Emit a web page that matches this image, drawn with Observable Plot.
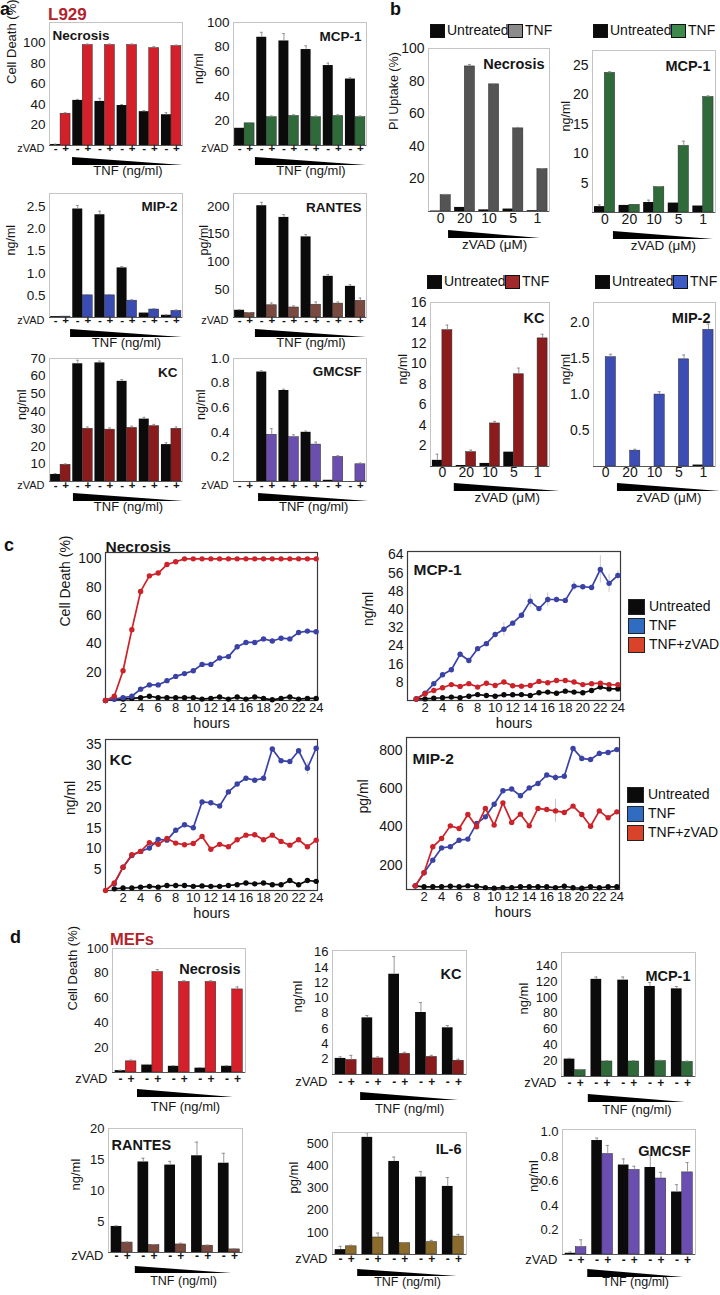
<!DOCTYPE html>
<html>
<head>
<meta charset="utf-8">
<script src="https://cdn.jsdelivr.net/npm/d3@7"></script>
<script src="https://cdn.jsdelivr.net/npm/@observablehq/plot@0.6"></script>
<style>
html,body{margin:0;padding:0;background:#fff;}
#page{position:relative;width:720px;height:1295px;overflow:hidden;background:#fff;font-family:"Liberation Sans",Arial,Helvetica,sans-serif;color:#111;}
#page svg{overflow:visible;position:absolute;}
.t{position:absolute;white-space:nowrap;line-height:1;}
.sw{position:absolute;box-sizing:border-box;border:1px solid #111;}
</style>
</head>
<body>
<div id="page"></div>
<script>
// ---------------- DATA ----------------
// panel a (L929): 6 groups, "-" = no zVAD, "+" = zVAD
const aNecrosisNoZvad = [1, 44, 43, 39, 33, 30];
const aNecrosisZvad   = [31, 98, 98, 98, 95, 97];
const aNecrosisErrNo  = [0.3, 1, 3, 1, 1, 2];
const aNecrosisErrZ   = [1, 1, 1, 1, 1.5, 1];
const aMcp1NoZvad = [14, 88, 85, 78, 65, 54];
const aMcp1Zvad   = [18, 23, 24, 23, 24, 23];
const aMcp1ErrNo  = [0, 4, 6, 3, 2, 1];
const aMcp1ErrZ   = [0.5, 1, 1, 1, 1, 1];
const aMip2NoZvad = [0.02, 2.45, 2.32, 1.12, 0.1, 0.05];
const aMip2Zvad   = [0.02, 0.5, 0.5, 0.38, 0.18, 0.15];
const aMip2ErrNo  = [0, 0.08, 0.08, 0.03, 0.01, 0.01];
const aMip2ErrZ   = [0, 0.02, 0.02, 0.02, 0.02, 0.02];
const aRantesNoZvad = [13, 201, 180, 145, 74, 56];
const aRantesZvad   = [8, 22, 18, 23, 25, 30];
const aRantesErrNo  = [1, 6, 5, 4, 3, 3];
const aRantesErrZ   = [1, 4, 3, 5, 3, 5];
const aKcNoZvad = [4, 67, 67.5, 57, 35.5, 21];
const aKcZvad   = [9.5, 30, 29.5, 30.5, 31.5, 30];
const aKcErrNo  = [0.5, 2, 1, 1, 1, 1];
const aKcErrZ   = [0.5, 1, 1, 1, 1, 1];
const aGmcsfNoZvad = [0, 0.89, 0.74, 0.40, 0.01, 0];
const aGmcsfZvad   = [0, 0.38, 0.36, 0.30, 0.20, 0.14];
const aGmcsfErrNo  = [0, 0.01, 0.01, 0.01, 0, 0];
const aGmcsfErrZ   = [0, 0.05, 0.02, 0.02, 0.01, 0.01];

// panel b: zVAD doses (µM)
const bDoses = ["0", "20", "10", "5", "1"];
const bNecrosisUntreated = [0.3, 2.5, 1, 1.5, 0.5];
const bNecrosisTnf       = [10, 89, 78, 51, 26];
const bNecrosisErrU      = [0, 0, 0, 0, 0];
const bNecrosisErrT      = [0.5, 1.2, 0.3, 0.6, 0.3];
const bMcp1Untreated = [1, 1.2, 1.7, 1.6, 1.1];
const bMcp1Tnf       = [23.7, 1.3, 4.3, 11.3, 19.6];
const bMcp1ErrU      = [0.3, 0, 0.4, 0, 0];
const bMcp1ErrT      = [0.2, 0, 0.1, 0.8, 0.2];
const bKcUntreated = [0.6, 0.1, 0.3, 1.4, 0];
const bKcTnf       = [13.3, 1.4, 4.2, 9.0, 12.5];
const bKcErrU      = [0.6, 0, 0, 0, 0];
const bKcErrT      = [0.5, 0.2, 0.2, 0.6, 0.4];
const bMip2Untreated = [0, 0, 0, 0, 0.02];
const bMip2Tnf       = [1.52, 0.22, 1.0, 1.49, 1.9];
const bMip2ErrU      = [0, 0, 0, 0, 0];
const bMip2ErrT      = [0.04, 0.02, 0.04, 0.06, 0.08];

// panel c: time course, hours 0..24 (null = not measured)
const hours = [0,1,2,3,4,5,6,7,8,9,10,11,12,13,14,15,16,17,18,19,20,21,22,23,24];
const hourTicks = [2,4,6,8,10,12,14,16,18,20,22,24];
const cNecrosisUntreated = [0,1,1,1.5,2,3,2,2,2,2,2,1,1.5,2.5,1,2.5,1,2.5,1.5,0.5,1.5,2.5,1,1.5,1.5];
const cNecrosisTnf       = [0,1,2,3,8,11,11,14,17,19,21,25.5,25.5,30,31,38,41,41,43.5,42,44,43.5,48,49,48.5];
const cNecrosisTnfZvad   = [0,3,21,50,77,88,90,96,98,100,100,100,100,100,100,100,100,100,100,100,100,100,100,100,100];
const cMcp1Untreated = [null,0.7,0.7,1,1.2,1.5,1.2,1.9,2.6,2.2,1.9,2.5,2.5,2.6,2.2,3.4,3.7,3.2,4.1,3.7,3.4,4.4,5.9,5.1,5.1];
const cMcp1Tnf       = [null,0.7,3.2,7.4,11.3,13.5,20.3,17.6,22.8,25,29,31.3,34,37.5,43.7,40.4,44.4,44.4,44,50.3,50,49.7,57.6,51.5,55];
const cMcp1TnfErr    = [0,0,0.5,0.5,0.5,0.5,1,0.5,1,1,1,3,1,1,3,1,3,1,1,2,1,1,6,4,2];
const cMcp1TnfZvad   = [null,0.7,3,4.4,5.6,7,6.2,7.4,5.9,7.6,6.6,8.1,6.5,6.3,6.6,8.4,7.8,8.8,8.8,8.1,7,7.4,7.6,7,6.9];
const cKcUntreated = [null,0.4,0.6,0.6,0.8,1,0.8,1.2,1.2,1.2,1,1.1,1,1,1.2,1.4,1.8,1.6,1.8,1.4,1.4,2.4,1.4,2.4,2.2];
const cKcTnf       = [null,1.6,5.6,8.4,9.4,10.2,12.3,12.1,14.5,15.8,15.1,21.3,21.1,20.3,23.7,25.6,27,26.5,27,34,31.2,31,33.6,29.4,34.2];
const cKcTnfErr    = [0,0,0.3,0.3,0.3,0.3,0.3,0.3,0.5,0.3,0.3,0.5,0.3,0.3,0.5,0.3,0.5,0.3,0.5,0.5,0.5,0.5,0.5,1.5,0.5];
const cKcTnfZvad   = [0,1.8,5.6,8.6,9.4,11.5,11.1,12.5,11.4,11,11.3,13,9.9,11.1,10.5,12.2,13.3,13.4,12.2,13.3,11.8,10.9,12.2,10.5,12.1];
const cMip2Untreated = [null,92,87,87,87,90,87,92,90,83,80,83,83,87,87,87,87,83,90,82,80,87,82,87,87];
const cMip2Tnf       = [null,92,160,226,290,296,330,336,417,452,518,588,597,562,603,626,670,657,664,809,757,751,783,788,803];
const cMip2TnfErr    = [0,0,5,5,5,5,5,5,5,5,5,10,5,5,5,5,5,20,5,5,20,5,15,5,5];
const cMip2TnfZvad   = [null,92,160,296,339,405,391,464,400,496,409,525,423,466,405,496,490,483,475,508,464,403,483,447,478];
const cMip2TnfZvadErr= [0,0,5,5,5,5,5,5,5,5,5,5,5,5,5,5,5,60,5,5,5,5,5,5,5];

// panel d (MEFs): 5 groups
const dNecrosisNoZvad = [1.5, 6, 5, 3.5, 5];
const dNecrosisZvad   = [9, 81, 73, 73, 67];
const dNecrosisErrNo  = [0.3, 0.5, 0.5, 0.5, 0.5];
const dNecrosisErrZ   = [1, 2, 1, 1, 2];
const dKcNoZvad = [2.1, 7.4, 13.1, 8.1, 6.1];
const dKcZvad   = [1.9, 2.1, 2.7, 2.3, 1.8];
const dKcErrNo  = [0.2, 0.3, 2.3, 1.3, 0.3];
const dKcErrZ   = [0.6, 0.2, 0.2, 0.2, 0.2];
const dMcp1NoZvad = [22, 123, 122, 114, 111];
const dMcp1Zvad   = [8, 19, 19, 19.5, 18.5];
const dMcp1ErrNo  = [1, 3, 4, 5, 3];
const dMcp1ErrZ   = [1, 1, 1, 1, 1];
const dRantesNoZvad = [4.2, 14.6, 14.1, 15.6, 14.4];
const dRantesZvad   = [1.6, 1.2, 1.3, 1.1, 0.5];
const dRantesErrNo  = [0.1, 0.6, 0.6, 2.2, 1.6];
const dRantesErrZ   = [0.1, 0.1, 0.2, 0.1, 0.1];
const dIl6NoZvad = [22, 530, 421, 350, 308];
const dIl6Zvad   = [37, 77, 51, 56, 81];
const dIl6ErrNo  = [15, 20, 20, 25, 40];
const dIl6ErrZ   = [5, 20, 3, 8, 10];
const dGmcsfNoZvad = [0.01, 0.93, 0.73, 0.71, 0.51];
const dGmcsfZvad   = [0.06, 0.82, 0.69, 0.62, 0.67];
const dGmcsfErrNo  = [0.01, 0.02, 0.05, 0.1, 0.06];
const dGmcsfErrZ   = [0.06, 0.07, 0.03, 0.05, 0.08];

// ---------------- HELPERS ----------------
const FONT = '"Liberation Sans", Arial, Helvetica, sans-serif';
const page = document.getElementById("page");
const f1 = d3.format(".1f");
const BLACK = "#0b0b0b";

function label(s, x, top, size, extra = "") {
  const d = document.createElement("div");
  d.className = "t";
  d.textContent = s;
  d.style.cssText = `left:${x}px;top:${top}px;font-size:${size}px;` + extra;
  page.appendChild(d);
}
function swatch(x, yc, w, h, color, border = "#111") {
  const d = document.createElement("div");
  d.className = "sw";
  d.style.cssText = `left:${x}px;top:${yc - h / 2}px;width:${w}px;height:${h}px;background:${color};border-color:${border};`;
  page.appendChild(d);
}
function place(svg, left, top) {
  svg.style.left = left + "px";
  svg.style.top = top + "px";
  page.appendChild(svg);
}

function barChart(c) {
  const [fl, ft, fr, fb] = c.frame;
  const mL = 64, mR = 24, mT = 16, mB = 52;
  const n = c.u.length, hw = c.hw || 0.44;
  const rows = [];
  for (let i = 0; i < n; i++) {
    rows.push({k: "u", v: c.u[i], e: c.ue[i], x1: i - hw, x2: i, cx: i - hw / 2});
    rows.push({k: "t", v: c.t[i], e: c.te[i], x1: i, x2: i + hw, cx: i + hw / 2});
  }
  const y0 = c.y[0];
  const errRows = rows.filter(d => d.e > 0);
  const marks = [
    Plot.rect(rows.filter(d => d.k === "u"), {x1: "x1", x2: "x2", y1: () => y0, y2: "v", fill: BLACK}),
    Plot.rect(rows.filter(d => d.k === "t"), {x1: "x1", x2: "x2", y1: () => y0, y2: "v", fill: c.color, stroke: "#2a2a2a", strokeWidth: 0.5}),
    Plot.ruleX(errRows, {x: "cx", y1: "v", y2: d => d.v + d.e, stroke: "#8c8c8c", strokeWidth: 0.9}),
    Plot.ruleY(errRows, {y: d => d.v + d.e, x1: d => d.cx - 0.06, x2: d => d.cx + 0.06, stroke: "#8c8c8c", strokeWidth: 0.9}),
    Plot.frame({stroke: "#c4c4c4"}),
    Plot.ruleY([y0], {stroke: "#555"}),
    Plot.axisY(c.yTicks, {tickSize: 0, tickPadding: 4, tickFormat: c.fmt, fontSize: c.tf, label: null}),
    Plot.text([c.yLabel], {frameAnchor: "left", dx: -c.yOff, rotate: -90, fontSize: c.yf}),
    Plot.text([c.title], {frameAnchor: c.tl ? "top-left" : "top-right", textAnchor: c.tl ? "start" : "end",
      dx: c.tl ? 3 : -5, dy: c.tdy, fontWeight: "bold", fontSize: c.tfs})
  ];
  if (c.doses) {
    marks.push(Plot.text(c.doses, {x: (d, i) => i, frameAnchor: "bottom", dy: c.rowDy, fontSize: c.tf}));
  } else {
    marks.push(Plot.text(rows, {x: "cx", text: d => d.k === "u" ? "-" : "+", frameAnchor: "bottom", dy: c.rowDy, fontSize: c.sf, fontWeight: "bold"}));
    marks.push(Plot.text(["zVAD"], {frameAnchor: "bottom-left", textAnchor: "end", dx: -5, dy: c.rowDy, fontSize: c.zf}));
  }
  marks.push(Plot.text([c.caption], {x: () => (c.w[0] + c.w[1]) / 2, frameAnchor: "bottom", dy: c.capDy, fontSize: c.cf}));
  const plot = Plot.plot({
    width: fr - fl + mL + mR, height: fb - ft + mT + mB,
    marginLeft: mL, marginRight: mR, marginTop: mT, marginBottom: mB,
    x: {domain: [-0.5, n - 0.5], axis: null},
    y: {domain: c.y},
    style: {fontFamily: FONT, background: "transparent", color: "#161616", overflow: "visible"},
    marks
  });
  // TNF / zVAD gradient wedge, placed with the chart's own x scale
  const sx = plot.scale("x");
  const X0 = sx.apply(c.w[0]), X1 = sx.apply(c.w[1]);
  const yb = fb - ft + mT;
  d3.select(plot).append("path")
    .attr("d", `M${X0},${yb + c.wTop}L${X0},${yb + c.wTop + c.wH}L${X1},${yb + c.wTop + c.wH}Z`)
    .attr("fill", "#000");
  place(plot, fl - mL, ft - mT);
}

function lineChart(c) {
  const [fl, ft, fr, fb] = c.frame;
  const mL = 64, mR = 12, mT = 24, mB = 40;
  const marks = [Plot.frame({stroke: "#3a3a3a", strokeWidth: 1.2})];
  const seriesRows = c.series.map(s => hours.map((h, i) => ({h, v: s.vals[i], e: s.err ? s.err[i] : 0})).filter(d => d.v != null));
  seriesRows.forEach(rows => {
    const er = rows.filter(d => d.e > 0);
    marks.push(Plot.ruleX(er, {x: "h", y1: d => d.v - d.e, y2: d => d.v + d.e, stroke: "#c9c9c9", strokeWidth: 1}));
  });
  seriesRows.forEach((rows, k) => {
    const col = c.series[k].color;
    marks.push(Plot.line(rows, {x: "h", y: "v", stroke: col, strokeWidth: 1.7}));
    marks.push(Plot.dot(rows, {x: "h", y: "v", fill: col, r: 2.7}));
  });
  marks.push(
    Plot.axisY(c.yTicks, {tickSize: 0, tickPadding: 4, fontSize: 14, label: null}),
    Plot.axisX(hourTicks, {tickSize: 0, tickPadding: 2, fontSize: 13, label: null}),
    Plot.text(["hours"], {frameAnchor: "bottom", dy: 27, fontSize: 14.5}),
    Plot.text([c.yLabel], {frameAnchor: "left", dx: -c.yOff, rotate: -90, fontSize: 14}),
    Plot.text([c.title], {frameAnchor: "top-left", textAnchor: "start", dx: c.tdx, dy: c.tdy, fontWeight: "bold", fontSize: 15.5})
  );
  const plot = Plot.plot({
    width: fr - fl + mL + mR, height: fb - ft + mT + mB,
    marginLeft: mL, marginRight: mR, marginTop: mT, marginBottom: mB,
    x: {domain: c.x},
    y: {domain: c.y},
    style: {fontFamily: FONT, background: "transparent", color: "#161616", overflow: "visible"},
    marks
  });
  place(plot, fl - mL, ft - mT);
}

// ---------------- PANEL a ----------------
const aCommon = {hw: 0.45, tf: 13.5, yf: 12.5, tfs: 13.5, sf: 11.5, zf: 11, rowDy: 6, wTop: 12, wH: 8, capDy: 29, cf: 13, caption: "TNF (ng/ml)"};
barChart({...aCommon, frame: [49, 22, 182, 145], y: [0, 120], yTicks: [20, 40, 60, 80, 100], u: aNecrosisNoZvad, t: aNecrosisZvad, ue: aNecrosisErrNo, te: aNecrosisErrZ,
  color: "#d3202a", yLabel: "Cell Death (%)", yOff: 38, yf: 13, title: "Necrosis", tl: true, tdy: 8, w: [0.54, 5.54]});
barChart({...aCommon, frame: [233, 22, 366, 145], y: [0, 100], yTicks: [20, 40, 60, 80, 100], u: aMcp1NoZvad, t: aMcp1Zvad, ue: aMcp1ErrNo, te: aMcp1ErrZ,
  color: "#2f6a3b", yLabel: "ng/ml", yOff: 35, title: "MCP-1", tdy: 9, w: [0.49, 5.5]});
barChart({...aCommon, frame: [49, 193, 182, 317], y: [0, 2.8], yTicks: [0.5, 1, 1.5, 2, 2.5], fmt: f1, u: aMip2NoZvad, t: aMip2Zvad, ue: aMip2ErrNo, te: aMip2ErrZ,
  color: "#3a4cb2", yLabel: "ng/ml", yOff: 39, title: "MIP-2", tdy: 8, w: [0.45, 5.5]});
barChart({...aCommon, frame: [233, 193, 366, 317], y: [0, 223], yTicks: [50, 100, 150, 200], u: aRantesNoZvad, t: aRantesZvad, ue: aRantesErrNo, te: aRantesErrZ,
  color: "#7a4a40", yLabel: "pg/ml", yOff: 30, title: "RANTES", tdy: 9, w: [0.49, 5.5]});
barChart({...aCommon, frame: [49, 358, 182, 481], y: [0, 70], yTicks: [10, 20, 30, 40, 50, 60, 70], u: aKcNoZvad, t: aKcZvad, ue: aKcErrNo, te: aKcErrZ,
  color: "#8a1b1d", yLabel: "ng/ml", yOff: 28, title: "KC", tdy: 9, rowDy: 7, w: [0.58, 5.55]});
barChart({...aCommon, frame: [233, 358, 366, 481], y: [0, 1.0], yTicks: [0.2, 0.4, 0.6, 0.8, 1.0], fmt: f1, u: aGmcsfNoZvad, t: aGmcsfZvad, ue: aGmcsfErrNo, te: aGmcsfErrZ,
  color: "#6a4fae", yLabel: "ng/ml", yOff: 33, title: "GMCSF", tdy: 8, rowDy: 7, w: [0.63, 5.6]});

// ---------------- PANEL b ----------------
const bCommon = {hw: 0.42, tf: 14, yf: 12.5, tfs: 14.5, doses: bDoses, cf: 13.5, caption: "zVAD (\u03bcM)", wH: 8};
barChart({...bCommon, frame: [428, 48, 549, 211], y: [0, 100], yTicks: [20, 40, 60, 80, 100], u: bNecrosisUntreated, t: bNecrosisTnf, ue: bNecrosisErrU, te: bNecrosisErrT,
  color: "#545454", yLabel: "PI Uptake (%)", yOff: 35, title: "Necrosis", tdy: 10, rowDy: 11, wTop: 19, capDy: 37, w: [0.33, 4.13]});
barChart({...bCommon, frame: [592, 50, 715, 212], y: [0, 27.5], yTicks: [5, 10, 15, 20, 25], u: bMcp1Untreated, t: bMcp1Tnf, ue: bMcp1ErrU, te: bMcp1ErrT,
  color: "#2e6a3a", yLabel: "ng/ml", yOff: 27, title: "MCP-1", tdy: 10, rowDy: 11, wTop: 19, capDy: 37, w: [0.35, 4.42]});
barChart({...bCommon, frame: [430, 302, 549, 466], y: [0, 16], yTicks: [2, 4, 6, 8, 10, 12, 14, 16], u: bKcUntreated, t: bKcTnf, ue: bKcErrU, te: bKcErrT,
  color: "#8b1c1d", yLabel: "ng/ml", yOff: 28, title: "KC", tdy: 10, rowDy: 10, wTop: 17, capDy: 35, w: [0.5, 4.95]});
barChart({...bCommon, frame: [593, 302, 715, 466], y: [0, 2.28], yTicks: [0.5, 1, 1.5, 2], fmt: f1, u: bMip2Untreated, t: bMip2Tnf, ue: bMip2ErrU, te: bMip2ErrT,
  color: "#3c4db4", yLabel: "ng/ml", yOff: 28, title: "MIP-2", tdy: 10, rowDy: 10, wTop: 17, capDy: 35, w: [0.48, 4.7]});

// legends of panel b
function bLegend(x, yc, color) {
  swatch(x, yc, 15, 14, BLACK);
  label("Untreated", x + 17, yc - 8, 14);
  swatch(x + 78, yc, 15, 14, color, "#111");
  label("TNF", x + 95, yc - 8, 14);
}
bLegend(430, 31, "#8c8c8c");
bLegend(593, 31, "#3e8a4b");
bLegend(427, 282, "#a02a2b");
bLegend(595, 282, "#3d5bc2");

// ---------------- PANEL c ----------------
const RED = "#cc2229", BLUE = "#3b42a6";
lineChart({frame: [105, 552, 317, 700], x: [0, 24.15], y: [0, 104.5], yTicks: [20, 40, 60, 80, 100], yLabel: "Cell Death (%)", yOff: 40,
  title: "Necrosis", tdx: 0, tdy: -12,
  series: [{vals: cNecrosisUntreated, color: BLACK}, {vals: cNecrosisTnf, color: BLUE}, {vals: cNecrosisTnfZvad, color: RED}]});
lineChart({frame: [407, 551, 620, 700], x: [0, 24.3], y: [0, 65.5], yTicks: [8, 16, 24, 32, 40, 48, 56, 64], yLabel: "ng/ml", yOff: 39,
  title: "MCP-1", tdx: 6, tdy: 12,
  series: [{vals: cMcp1Untreated, color: BLACK}, {vals: cMcp1Tnf, color: BLUE, err: cMcp1TnfErr}, {vals: cMcp1TnfZvad, color: RED}]});
lineChart({frame: [105, 739, 317, 890], x: [0, 24.15], y: [0, 36.3], yTicks: [5, 10, 15, 20, 25, 30, 35], yLabel: "ng/ml", yOff: 35,
  title: "KC", tdx: 4, tdy: 14,
  series: [{vals: cKcUntreated, color: BLACK}, {vals: cKcTnf, color: BLUE, err: cKcTnfErr}, {vals: cKcTnfZvad, color: RED}]});
lineChart({frame: [406, 737, 619, 889], x: [0, 24.3], y: [73, 866], yTicks: [200, 400, 600, 800], yLabel: "pg/ml", yOff: 43,
  title: "MIP-2", tdx: 6, tdy: 15,
  series: [{vals: cMip2Untreated, color: BLACK}, {vals: cMip2Tnf, color: BLUE, err: cMip2TnfErr}, {vals: cMip2TnfZvad, color: RED, err: cMip2TnfZvadErr}]});

const cLegendLabels = ["Untreated", "TNF", "TNF+zVAD"];
const cLegendColors = [BLACK, "#2f6cc2", "#d8432a"];
function cLegend(x, y0) {
  cLegendLabels.forEach((s, i) => {
    swatch(x, y0 + i * 19, 17, 16, cLegendColors[i], "#222");
    label(s, x + 21, y0 + i * 19 - 8, 14);
  });
}
cLegend(628, 607);
cLegend(627, 795);

// ---------------- PANEL d ----------------
const dCommon = {hw: 0.4, tf: 13, yf: 13, tfs: 14.5, sf: 12, zf: 13, cf: 13, caption: "TNF (ng/ml)", wH: 8};
barChart({...dCommon, frame: [112, 948, 245, 1072], y: [0, 100], yTicks: [20, 40, 60, 80, 100], u: dNecrosisNoZvad, t: dNecrosisZvad, ue: dNecrosisErrNo, te: dNecrosisErrZ,
  color: "#d3202a", yLabel: "Cell Death (%)", yOff: 40, title: "Necrosis", tdy: 15, rowDy: 10, wTop: 17, capDy: 38, w: [0.44, 4.05]});
barChart({...dCommon, frame: [332, 950, 466, 1074], y: [0, 16.2], yTicks: [2, 4, 6, 8, 10, 12, 14, 16], u: dKcNoZvad, t: dKcZvad, ue: dKcErrNo, te: dKcErrZ,
  color: "#8a1b1d", yLabel: "ng/ml", yOff: 35, title: "KC", tdy: 18, rowDy: 11, wTop: 18, capDy: 38, w: [0.55, 4.2]});
barChart({...dCommon, frame: [561, 952, 695, 1076], y: [0, 157], yTicks: [20, 40, 60, 80, 100, 120, 140], u: dMcp1NoZvad, t: dMcp1Zvad, ue: dMcp1ErrNo, te: dMcp1ErrZ,
  color: "#2f6a3b", yLabel: "ng/ml", yOff: 38, title: "MCP-1", tdy: 18, rowDy: 10, wTop: 18, capDy: 37, w: [0.5, 4.13]});
barChart({...dCommon, frame: [108, 1128, 242, 1252], y: [0, 20], yTicks: [5, 10, 15, 20], u: dRantesNoZvad, t: dRantesZvad, ue: dRantesErrNo, te: dRantesErrZ,
  color: "#7a4a40", yLabel: "ng/ml", yOff: 33, title: "RANTES", tl: true, tdy: 11, rowDy: 7, wTop: 14, wH: 7, capDy: 32, cf: 12.5, w: [0.5, 4.1]});
barChart({...dCommon, frame: [332, 1132, 466, 1254], y: [0, 552], yTicks: [100, 200, 300, 400, 500], u: dIl6NoZvad, t: dIl6Zvad, ue: dIl6ErrNo, te: dIl6ErrZ,
  color: "#8c6c2c", yLabel: "pg/ml", yOff: 39, title: "IL-6", tdy: 11, rowDy: 8, wTop: 15, wH: 7, capDy: 31, cf: 12.5, w: [0.44, 4.16]});
barChart({...dCommon, frame: [562, 1129, 695, 1254], y: [0, 1.02], yTicks: [0.2, 0.4, 0.6, 0.8, 1.0], fmt: f1, u: dGmcsfNoZvad, t: dGmcsfZvad, ue: dGmcsfErrNo, te: dGmcsfErrZ,
  color: "#6a4fb0", yLabel: "ng/ml", yOff: 29, title: "GMCSF", tdy: 16, rowDy: 9, wTop: 15, wH: 8, capDy: 31, cf: 12.5, w: [0.45, 4.05]});

// ---------------- panel letters & cell-line labels ----------------
label("a", 0, 0, 18, "font-weight:bold;");
label("L929", 48, 6, 17, "font-weight:bold;color:#b3232b;");
label("b", 390, 0, 18, "font-weight:bold;");
label("c", 4, 536, 18, "font-weight:bold;");
label("d", 10, 928, 18, "font-weight:bold;");
label("MEFs", 110, 931, 16.5, "font-weight:bold;color:#b3232b;");
</script>
</body>
</html>
